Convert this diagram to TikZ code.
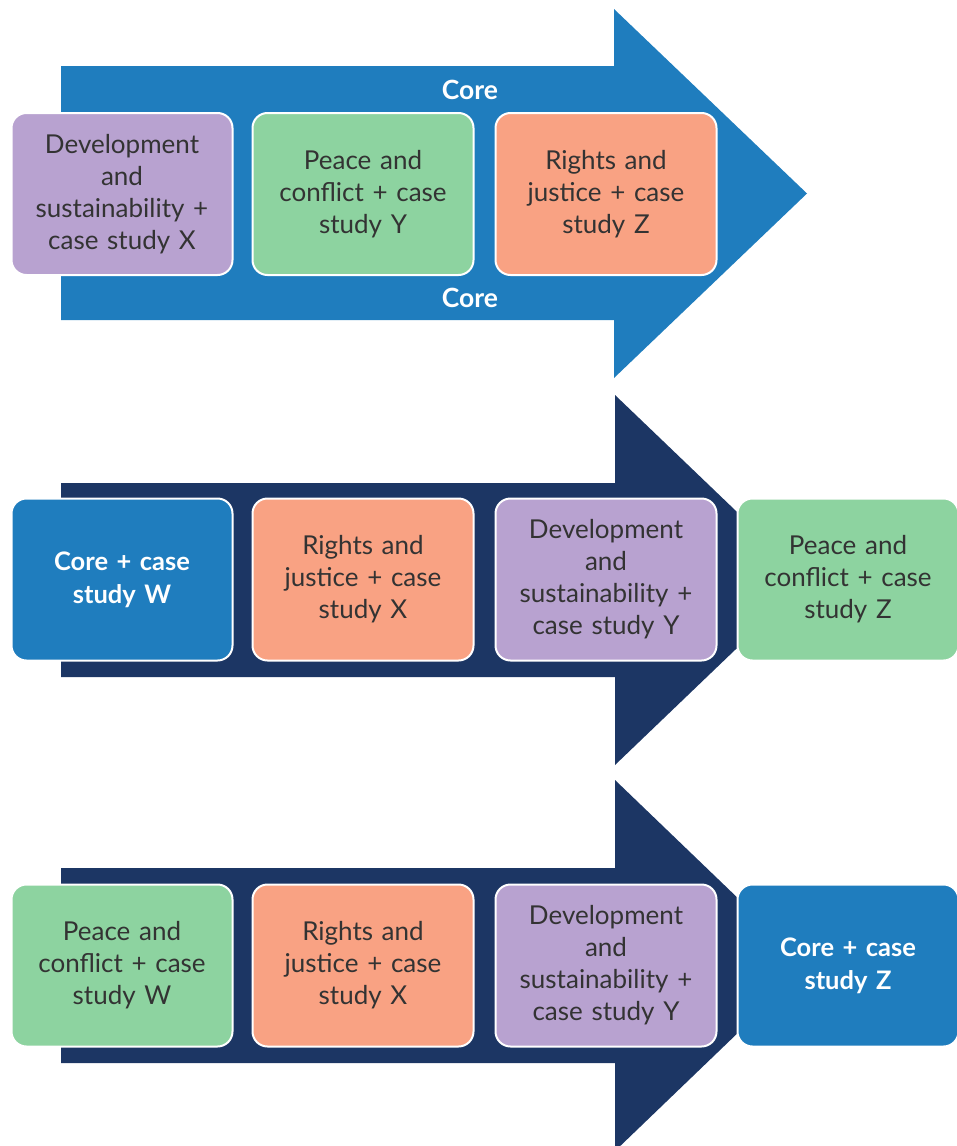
\documentclass[tikz,border=0pt]{standalone}
\usepackage{fontspec}
\setmainfont{Lato}[WordSpace=0.8]
\definecolor{coreblue}{HTML}{1F7DBE}
\definecolor{navy}{HTML}{1C3664}
\definecolor{devpurple}{HTML}{B8A2D0}
\definecolor{peacegreen}{HTML}{8DD3A0}
\definecolor{rightsorange}{HTML}{F9A283}
\definecolor{ink}{HTML}{333333}
\tikzset{
  topic/.style={rounded corners=15pt, draw=white, line width=2pt,
    minimum width=221pt, minimum height=162pt, text width=215pt,
    align=center, inner sep=0pt, text=ink,
    font=\fontsize{26}{32}\selectfont},
  dev/.style={topic, fill=devpurple},
  peace/.style={topic, fill=peacegreen},
  rights/.style={topic, fill=rightsorange},
  corebox/.style={topic, fill=coreblue, text=white,
    font=\fontsize{25.5}{33}\selectfont\bfseries},
  corelabel/.style={text=white, font=\fontsize{26.5}{30}\selectfont\bfseries, inner sep=0pt}
}
\begin{document}
\begin{tikzpicture}[x=1pt,y=-1pt]
\useasboundingbox (0,0) rectangle (956,1146);

% first sequence: light blue arrow carrying the core strand
\fill[coreblue] (61,66) -- (614,66) -- (614,9) -- (807,193.5) -- (614,378)
  -- (614,320) -- (61,320) -- cycle;
\node[corelabel] (coreA) at (470,90) {Core};
\node[corelabel] (coreB) at (470,298) {Core};
\node[dev]    (a1) at (122,194) {Development\\and\\sustainability +\\case study X};
\node[peace]  (a2) at (363,194) {Peace and\\conflict + case\\study Y};
\node[rights] (a3) at (606,194) {Rights and\\justice + case\\study Z};

% second sequence
\fill[navy] (61,483) -- (615,483) -- (615,395) -- (808,580) -- (615,765)
  -- (615,677) -- (61,677) -- cycle;
\node[corebox] (b1) at (122,579.5) {Core + case\\study W};
\node[rights]  (b2) at (363,579.5) {Rights and\\justice + case\\study X};
\node[dev]     (b3) at (606,579.5) {Development\\and\\sustainability +\\case study Y};
\node[peace]   (b4) at (848,579.5) {Peace and\\conflict + case\\study Z};

% third sequence
\fill[navy] (61,868) -- (615,868) -- (615,780) -- (808,965.5) -- (615,1151)
  -- (615,1063) -- (61,1063) -- cycle;
\node[peace]   (c1) at (122,965.5) {Peace and\\conflict + case\\study W};
\node[rights]  (c2) at (363,965.5) {Rights and\\justice + case\\study X};
\node[dev]     (c3) at (606,965.5) {Development\\and\\sustainability +\\case study Y};
\node[corebox] (c4) at (848,965.5) {Core + case\\study Z};
\end{tikzpicture}
\end{document}
